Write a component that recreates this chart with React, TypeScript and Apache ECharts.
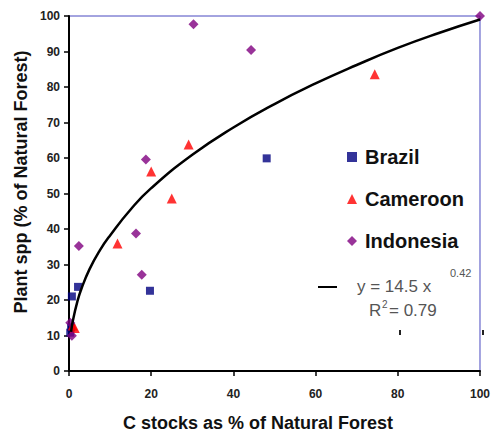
import React, { useEffect, useRef } from "react";
import * as echarts from "echarts";

const brazil: number[][] = [
  [48.1, 59.9],
  [19.7, 22.6],
  [2.2, 23.7],
  [0.7, 21.0],
  [0.3, 10.8],
  [0.5, 12.3],
];
const cameroon: number[][] = [
  [74.4, 83.6],
  [29.1, 63.8],
  [20.0, 56.2],
  [25.0, 48.6],
  [11.8, 35.9],
  [1.4, 12.1],
  [0.9, 12.8],
];
const indonesia: number[][] = [
  [100, 100],
  [30.3, 97.7],
  [44.3, 90.4],
  [18.7, 59.6],
  [16.3, 38.7],
  [2.4, 35.2],
  [17.7, 27.1],
  [0.3, 13.6],
  [0.7, 9.9],
];
// trend line
const trend: number[][] = [
  [0.5, 11], [1, 14.5], [2, 19.4], [3, 23.1], [5, 28.7], [7.5, 34], [10, 38.2],
  [15, 45.5], [20, 51.5], [30, 60.9], [40, 68.6], [50, 75.2], [60, 81], [70, 86.2],
  [80, 91], [90, 95.2], [100, 99],
];
const xTicks = { min: 0, max: 100, interval: 20 };
const yTicks = { min: 0, max: 100, interval: 10 };

const FONT = "'Liberation Sans', Arial, Helvetica, sans-serif";

export default function App() {
  const ref = useRef<HTMLDivElement>(null);
  useEffect(() => {
    document.body.style.margin = "0";
    const chart = echarts.init(ref.current!, null, { renderer: "svg" });
    chart.setOption({
      animation: false,
      backgroundColor: "#ffffff",
      grid: {
        left: 69,
        right: 8.5,
        top: 16,
        bottom: 63,
        show: true,
        borderColor: "#4848c0",
        borderWidth: 1,
      },
      xAxis: {
        type: "value",
        ...xTicks,
        axisLine: { show: true, lineStyle: { color: "#000", width: 2 } },
        axisTick: { show: true, length: 5, lineStyle: { color: "#000", width: 1.5 } },
        axisLabel: { fontFamily: FONT, fontSize: 12, fontWeight: "bold", color: "#222", margin: 17 },
        splitLine: { show: false },
      },
      yAxis: {
        type: "value",
        ...yTicks,
        axisLine: { show: true, lineStyle: { color: "#000", width: 2 } },
        axisTick: { show: true, length: 5, lineStyle: { color: "#000", width: 1.5 } },
        axisLabel: { fontFamily: FONT, fontSize: 12, fontWeight: "bold", color: "#222", margin: 9 },
        splitLine: { show: false },
      },
      legend: {
        data: [
          { name: "Brazil", icon: "rect" },
          { name: "Cameroon", icon: "triangle" },
          { name: "Indonesia", icon: "diamond" },
        ],
        orient: "vertical",
        left: 342,
        top: 142,
        itemWidth: 10,
        itemHeight: 10,
        itemGap: 22,
        textStyle: { fontFamily: FONT, fontSize: 20, fontWeight: "bold", color: "#111", padding: [0, 0, 0, 3] },
      },
      series: [
        {
          type: "line",
          name: "trend",
          data: trend,
          smooth: true,
          symbol: "none",
          lineStyle: { color: "#000", width: 2.5 },
          silent: true,
        },
        {
          type: "scatter",
          name: "Brazil",
          data: brazil,
          symbol: "rect",
          symbolSize: 8,
          itemStyle: { color: "#000080" },
        },
        {
          type: "scatter",
          name: "Cameroon",
          data: cameroon,
          symbol: "triangle",
          symbolSize: 10,
          itemStyle: { color: "#ff0000" },
        },
        {
          type: "scatter",
          name: "Indonesia",
          data: indonesia,
          symbol: "diamond",
          symbolSize: 10,
          itemStyle: { color: "#800080" },
        },
      ],
      graphic: [
        {
          type: "text",
          x: 21,
          y: 182,
          rotation: Math.PI / 2,
          style: {
            text: "Plant spp (% of Natural Forest)",
            font: `bold 18px ${FONT}`,
            fill: "#111",
            align: "center",
            verticalAlign: "middle",
          },
        },
        {
          type: "text",
          x: 258,
          y: 423,
          style: {
            text: "C stocks as % of Natural Forest",
            font: `bold 18px ${FONT}`,
            fill: "#111",
            align: "center",
            verticalAlign: "middle",
          },
        },
        { type: "line", shape: { x1: 318, y1: 287, x2: 337, y2: 287 }, style: { stroke: "#000", lineWidth: 2 } },
        {
          type: "text",
          x: 357,
          y: 286,
          style: { text: "y = 14.5 x", font: `17px ${FONT}`, fill: "#555", align: "left", verticalAlign: "middle" },
        },
        {
          type: "text",
          x: 450,
          y: 273,
          style: { text: "0.42", font: `11px ${FONT}`, fill: "#555", align: "left", verticalAlign: "middle" },
        },
        {
          type: "text",
          x: 369,
          y: 310,
          style: { text: "R", font: `17px ${FONT}`, fill: "#555", align: "left", verticalAlign: "middle" },
        },
        {
          type: "text",
          x: 382,
          y: 304,
          style: { text: "2", font: `10px ${FONT}`, fill: "#555", align: "left", verticalAlign: "middle" },
        },
        {
          type: "text",
          x: 389,
          y: 310,
          style: { text: "= 0.79", font: `17px ${FONT}`, fill: "#555", align: "left", verticalAlign: "middle" },
        },
        { type: "rect", shape: { x: 399, y: 330, width: 2, height: 5 }, style: { fill: "#222" } },
        { type: "rect", shape: { x: 482, y: 330, width: 2, height: 5 }, style: { fill: "#222" } },
      ],
    });
    return () => chart.dispose();
  }, []);
  return <div ref={ref} style={{ position: "fixed", left: 0, top: 0, width: 493, height: 434 }} />;
}
